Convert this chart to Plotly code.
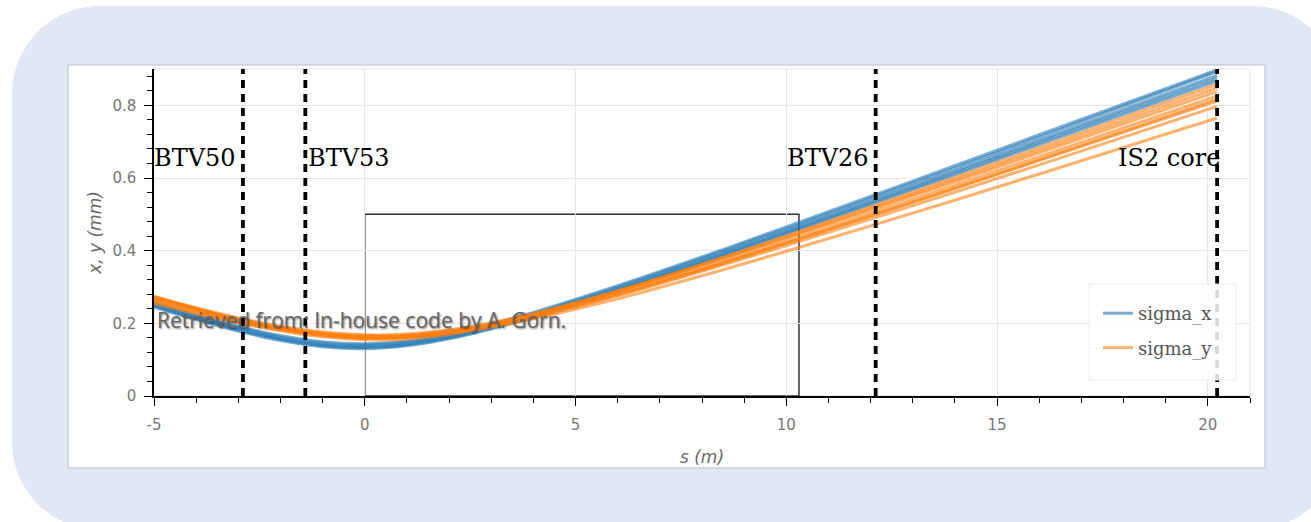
import plotly.graph_objects as go

# ---- data -----------------------------------------------------------------
# longitudinal positions (m)
s_pos = [-5, -4, -3, -2, -1, 0, 1, 2, 3, 4, 6, 8, 10, 13, 16, 20.22]

# horizontal beam size, one list per simulated run (mm)
sigma_x_runs = [
    [0.2443, 0.2097, 0.1786, 0.1527, 0.1354, 0.1301, 0.1381, 0.1573, 0.1844, 0.2164, 0.2884, 0.3657, 0.4456, 0.5679, 0.6917, 0.8673],
    [0.2480, 0.2130, 0.1815, 0.1558, 0.1385, 0.1332, 0.1411, 0.1602, 0.1873, 0.2193, 0.2916, 0.3695, 0.4500, 0.5730, 0.6980, 0.8750],
    [0.2504, 0.2156, 0.1843, 0.1586, 0.1414, 0.1361, 0.1440, 0.1631, 0.1902, 0.2223, 0.2949, 0.3732, 0.4541, 0.5782, 0.7040, 0.8823],
    [0.2546, 0.2197, 0.1883, 0.1625, 0.1453, 0.1401, 0.1479, 0.1671, 0.1942, 0.2264, 0.2995, 0.3784, 0.4602, 0.5855, 0.7126, 0.8929],
    [0.2585, 0.2234, 0.1920, 0.1663, 0.1493, 0.1441, 0.1518, 0.1709, 0.1979, 0.2302, 0.3035, 0.3829, 0.4652, 0.5916, 0.7190, 0.8975],
]

# vertical beam size, one list per simulated run (mm)
sigma_y_runs = [
    [0.2733, 0.2401, 0.2101, 0.1850, 0.1669, 0.1584, 0.1609, 0.1740, 0.1956, 0.2231, 0.2891, 0.3628, 0.4405, 0.5608, 0.6834, 0.8580],
    [0.2733, 0.2410, 0.2120, 0.1878, 0.1705, 0.1624, 0.1648, 0.1773, 0.1979, 0.2245, 0.2887, 0.3608, 0.4370, 0.5552, 0.6760, 0.8480],
    [0.2740, 0.2428, 0.2150, 0.1922, 0.1760, 0.1685, 0.1706, 0.1822, 0.2017, 0.2270, 0.2890, 0.3595, 0.4340, 0.5500, 0.6690, 0.8380],
    [0.2675, 0.2362, 0.2081, 0.1848, 0.1682, 0.1604, 0.1627, 0.1747, 0.1946, 0.2202, 0.2823, 0.3523, 0.4263, 0.5412, 0.6586, 0.8260],
    [0.2679, 0.2379, 0.2112, 0.1891, 0.1736, 0.1664, 0.1685, 0.1797, 0.1984, 0.2227, 0.2822, 0.3498, 0.4216, 0.5336, 0.6483, 0.8120],
    [0.2610, 0.2300, 0.2025, 0.1795, 0.1628, 0.1550, 0.1572, 0.1695, 0.1895, 0.2150, 0.2770, 0.3465, 0.4200, 0.5330, 0.6500, 0.8170],
    [0.2630, 0.2335, 0.2073, 0.1857, 0.1705, 0.1634, 0.1654, 0.1764, 0.1948, 0.2186, 0.2770, 0.3433, 0.4138, 0.5238, 0.6363, 0.7970],
    [0.2545, 0.2265, 0.2017, 0.1813, 0.1670, 0.1603, 0.1623, 0.1726, 0.1899, 0.2124, 0.2678, 0.3310, 0.3983, 0.5034, 0.6111, 0.7650],
]

# screens along the line
screen_names = ["BTV50", "BTV53", "BTV26", "IS2 core"]
screen_s = [-2.89, -1.41, 12.12, 20.22]
label_level = 0.655

# boxed region (s from, s to, size limit)
box_s = [0, 10.3]
box_limit = 0.5

x_tickvals = [-5, 0, 5, 10, 15, 20]
x_ticktext = ["-5", "0", "5", "10", "15", "20"]
y_tickvals = [0, 0.2, 0.4, 0.6, 0.8]
y_ticktext = ["0", "0.2", "0.4", "0.6", "0.8"]

# ---- page geometry ----------------------------------------------------------
W, H = 1311, 522
ML, MR, MT, MB = 154, 61, 69, 126
PW, PH = W - ML - MR, H - MT - MB


def px(x):
    return (x - ML) / PW


def py(y):
    return (H - MB - y) / PH


def rounded_rect(x0, y0, x1, y1, r):
    k = 0.5523 * r
    pts = [
        f"M{px(x0 + r)},{py(y0)}",
        f"L{px(x1 - r)},{py(y0)}",
        f"C{px(x1 - r + k)},{py(y0)} {px(x1)},{py(y0 + r - k)} {px(x1)},{py(y0 + r)}",
        f"L{px(x1)},{py(y1 - r)}",
        f"C{px(x1)},{py(y1 - r + k)} {px(x1 - r + k)},{py(y1)} {px(x1 - r)},{py(y1)}",
        f"L{px(x0 + r)},{py(y1)}",
        f"C{px(x0 + r - k)},{py(y1)} {px(x0)},{py(y1 - r + k)} {px(x0)},{py(y1 - r)}",
        f"L{px(x0)},{py(y0 + r)}",
        f"C{px(x0)},{py(y0 + r - k)} {px(x0 + r - k)},{py(y0)} {px(x0 + r)},{py(y0)}",
        "Z",
    ]
    return " ".join(pts)


fig = go.Figure()

for i, run in enumerate(sigma_x_runs):
    fig.add_trace(go.Scatter(
        x=s_pos, y=run, mode="lines", name="sigma_x", legendgroup="sx",
        showlegend=(i == 0), opacity=0.6,
        line=dict(color="#1f77b4", width=3, shape="spline"),
        hoverinfo="skip"))

for i, run in enumerate(sigma_y_runs):
    fig.add_trace(go.Scatter(
        x=s_pos, y=run, mode="lines", name="sigma_y", legendgroup="sy",
        showlegend=(i == 0), opacity=0.6,
        line=dict(color="#ff7f0e", width=3, shape="spline"),
        hoverinfo="skip"))

shapes = [
    # card background
    dict(type="path", xref="paper", yref="paper", layer="below",
         path=rounded_rect(12, 6, 1340, 530, 88),
         fillcolor="#e1e7f3", line=dict(width=0)),
    # figure panel
    dict(type="rect", xref="paper", yref="paper", layer="below",
         x0=px(68), x1=px(1265), y0=py(468), y1=py(65),
         fillcolor="white", line=dict(color="#b9bfcc", width=1)),
    # light frame round the axes
    dict(type="rect", xref="paper", yref="paper", layer="below",
         x0=0, x1=1, y0=0, y1=1, line=dict(color="#e6e6e6", width=1)),
    # boxed region
    dict(type="rect", xref="x", yref="y", layer="below",
         x0=box_s[0], x1=box_s[1], y0=0, y1=box_limit,
         line=dict(color="#333333", width=1.5)),
]
for s in screen_s:
    shapes.append(dict(type="line", xref="x", yref="paper", x0=s, x1=s, y0=0, y1=1,
                       line=dict(color="black", width=3.8, dash="8px,6px")))
# legend panel
shapes.append(dict(type="rect", xref="paper", yref="paper",
                   x0=px(1089), x1=px(1236), y0=py(380), y1=py(284),
                   fillcolor="rgba(255,255,255,0.85)", line=dict(color="#ececec", width=1)))

label_style = [("right", -5), ("left", 1), ("right", -5), ("right", 5)]
annotations = []
for name, s, (anchor, shift) in zip(screen_names, screen_s, label_style):
    annotations.append(dict(x=s, y=label_level, xref="x", yref="y", text=name,
                            showarrow=False, xanchor=anchor, yanchor="middle",
                            xshift=shift,
                            font=dict(family="DejaVu Serif", size=24, color="black")))
annotations.append(dict(
    x=px(155), y=py(320), xref="paper", yref="paper",
    text="Retrieved from: In-house code by A. Gorn.", showarrow=False,
    xanchor="left", yanchor="middle",
    font=dict(family="Open Sans", size=21, color="#666666",
              shadow="1px 1px 2px rgba(0,0,0,0.5)")))

axis_font = dict(family="DejaVu Sans", size=15, color="#777777")
title_font = dict(family="DejaVu Sans", size=17, color="#666666", style="italic")

fig.update_layout(
    width=W, height=H,
    margin=dict(l=ML, r=MR, t=MT, b=MB, pad=0),
    paper_bgcolor="white", plot_bgcolor="rgba(0,0,0,0)",
    shapes=shapes, annotations=annotations,
    showlegend=True,
    legend=dict(x=px(1098), y=py(295), xanchor="left", yanchor="top",
                bgcolor="rgba(0,0,0,0)", borderwidth=0,
                font=dict(family="DejaVu Serif", size=18, color="#555555"),
                tracegroupgap=8),
    xaxis=dict(range=[-5, 21], tickmode="array", tickvals=x_tickvals, ticktext=x_ticktext,
               ticks="outside", ticklen=8, tickwidth=1.3, tickcolor="black",
               ticklabelstandoff=6,
               showline=True, linecolor="black", linewidth=1.5,
               showgrid=True, gridcolor="#e6e6e6", gridwidth=1, zeroline=False,
               tickfont=axis_font,
               minor=dict(tickmode="linear", tick0=0, dtick=1, ticks="outside",
                          ticklen=5, tickcolor="black", tickwidth=1.2, showgrid=False),
               title=dict(text="s (m)", font=title_font, standoff=18)),
    yaxis=dict(range=[0, 0.9], tickmode="array", tickvals=y_tickvals, ticktext=y_ticktext,
               ticks="outside", ticklen=8, tickwidth=1.3, tickcolor="black",
               ticklabelstandoff=5,
               showline=True, linecolor="black", linewidth=1.5,
               showgrid=True, gridcolor="#e6e6e6", gridwidth=1, zeroline=False,
               tickfont=axis_font,
               minor=dict(tickmode="linear", tick0=0, dtick=0.04, ticks="outside",
                          ticklen=5, tickcolor="black", tickwidth=1.2, showgrid=False),
               title=dict(text="x, y (mm)", font=title_font, standoff=6)),
)

fig.write_html("out.html")
